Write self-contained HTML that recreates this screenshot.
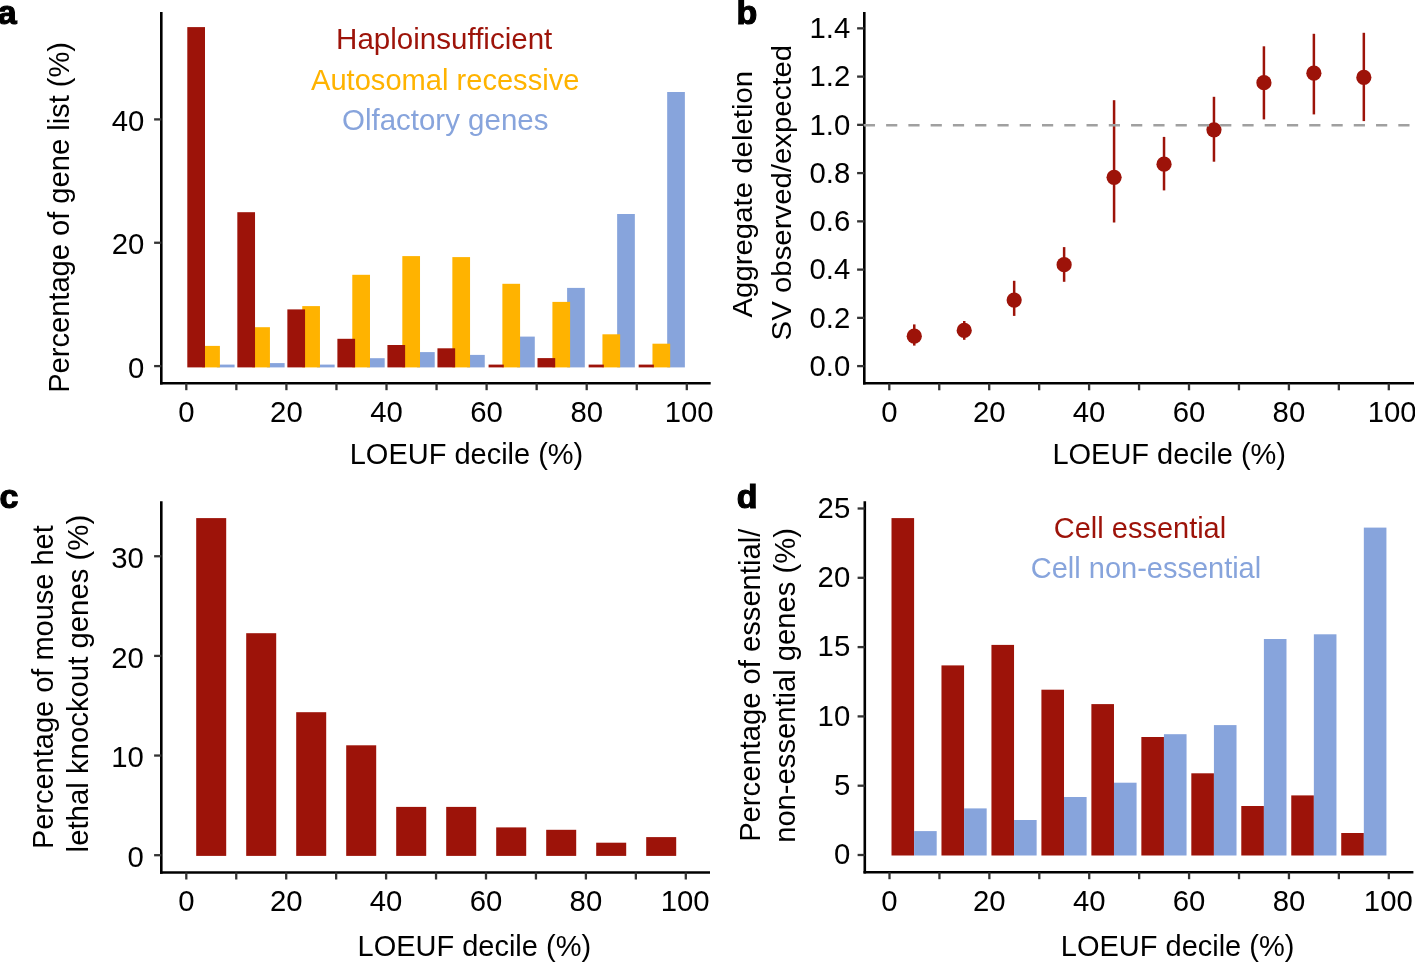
<!DOCTYPE html>
<html><head><meta charset="utf-8"><title>Figure</title>
<style>
html,body{margin:0;padding:0;background:#fff;}
body{width:1415px;height:962px;overflow:hidden;}
svg{display:block;will-change:transform;font-family:"Liberation Sans", sans-serif;}
</style></head>
<body>
<svg width="1415" height="962" viewBox="0 0 1415 962">
<rect width="1415" height="962" fill="#fff"/>
<text x="-2.3" y="24" font-size="34" font-weight="bold" stroke="#000" stroke-width="1.2">a</text>
<line x1="161.3" y1="12" x2="161.3" y2="384.5" stroke="#000" stroke-width="2.6" stroke-linecap="butt"/>
<line x1="160" y1="383.2" x2="710.7" y2="383.2" stroke="#000" stroke-width="2.6"/>
<line x1="154.1" y1="366.1" x2="161.3" y2="366.1" stroke="#333" stroke-width="2.3"/>
<text transform="translate(144.3,377.75) scale(1,1.02)" text-anchor="end" font-size="29.3" fill="#000">0</text>
<line x1="154.1" y1="242.75" x2="161.3" y2="242.75" stroke="#333" stroke-width="2.3"/>
<text transform="translate(144.3,254.4) scale(1,1.02)" text-anchor="end" font-size="29.3" fill="#000">20</text>
<line x1="154.1" y1="119.4" x2="161.3" y2="119.4" stroke="#333" stroke-width="2.3"/>
<text transform="translate(144.3,131.05) scale(1,1.02)" text-anchor="end" font-size="29.3" fill="#000">40</text>
<line x1="186.3" y1="383.2" x2="186.3" y2="390.2" stroke="#333" stroke-width="2.3"/>
<text transform="translate(186.3,422.4) scale(1,1.02)" text-anchor="middle" font-size="29.3" fill="#000">0</text>
<line x1="236.35" y1="383.2" x2="236.35" y2="390.2" stroke="#333" stroke-width="2.3"/>
<line x1="286.4" y1="383.2" x2="286.4" y2="390.2" stroke="#333" stroke-width="2.3"/>
<text transform="translate(286.4,422.4) scale(1,1.02)" text-anchor="middle" font-size="29.3" fill="#000">20</text>
<line x1="336.45" y1="383.2" x2="336.45" y2="390.2" stroke="#333" stroke-width="2.3"/>
<line x1="386.5" y1="383.2" x2="386.5" y2="390.2" stroke="#333" stroke-width="2.3"/>
<text transform="translate(386.5,422.4) scale(1,1.02)" text-anchor="middle" font-size="29.3" fill="#000">40</text>
<line x1="436.55" y1="383.2" x2="436.55" y2="390.2" stroke="#333" stroke-width="2.3"/>
<line x1="486.6" y1="383.2" x2="486.6" y2="390.2" stroke="#333" stroke-width="2.3"/>
<text transform="translate(486.6,422.4) scale(1,1.02)" text-anchor="middle" font-size="29.3" fill="#000">60</text>
<line x1="536.65" y1="383.2" x2="536.65" y2="390.2" stroke="#333" stroke-width="2.3"/>
<line x1="586.7" y1="383.2" x2="586.7" y2="390.2" stroke="#333" stroke-width="2.3"/>
<text transform="translate(586.7,422.4) scale(1,1.02)" text-anchor="middle" font-size="29.3" fill="#000">80</text>
<line x1="636.75" y1="383.2" x2="636.75" y2="390.2" stroke="#333" stroke-width="2.3"/>
<line x1="686.8" y1="383.2" x2="686.8" y2="390.2" stroke="#333" stroke-width="2.3"/>
<text transform="translate(689.2,422.4) scale(1,1.02)" text-anchor="middle" font-size="29.3" fill="#000">100</text>
<rect x="216.9" y="364.6" width="17.7" height="2.8" fill="#87A4DC"/>
<rect x="202.2" y="345.9" width="17.7" height="21.5" fill="#FFB300"/>
<rect x="187.3" y="27.1" width="17.7" height="340.3" fill="#9D1309"/>
<rect x="266.93" y="363.1" width="17.7" height="4.3" fill="#87A4DC"/>
<rect x="252.23" y="327.2" width="17.7" height="40.2" fill="#FFB300"/>
<rect x="237.33" y="212.2" width="17.7" height="155.2" fill="#9D1309"/>
<rect x="316.96" y="364.6" width="17.7" height="2.8" fill="#87A4DC"/>
<rect x="302.26" y="306.1" width="17.7" height="61.3" fill="#FFB300"/>
<rect x="287.36" y="309.4" width="17.7" height="58" fill="#9D1309"/>
<rect x="366.99" y="358.2" width="17.7" height="9.2" fill="#87A4DC"/>
<rect x="352.29" y="274.8" width="17.7" height="92.6" fill="#FFB300"/>
<rect x="337.39" y="338.8" width="17.7" height="28.6" fill="#9D1309"/>
<rect x="417.02" y="352.1" width="17.7" height="15.3" fill="#87A4DC"/>
<rect x="402.32" y="256.1" width="17.7" height="111.3" fill="#FFB300"/>
<rect x="387.42" y="345" width="17.7" height="22.4" fill="#9D1309"/>
<rect x="467.05" y="354.9" width="17.7" height="12.5" fill="#87A4DC"/>
<rect x="452.35" y="257.1" width="17.7" height="110.3" fill="#FFB300"/>
<rect x="437.45" y="348.3" width="17.7" height="19.1" fill="#9D1309"/>
<rect x="517.08" y="336.6" width="17.7" height="30.8" fill="#87A4DC"/>
<rect x="502.38" y="283.8" width="17.7" height="83.6" fill="#FFB300"/>
<rect x="488.58" y="364.6" width="15.2" height="2.8" fill="#9D1309"/>
<rect x="567.11" y="287.9" width="17.7" height="79.5" fill="#87A4DC"/>
<rect x="552.41" y="301.9" width="17.7" height="65.5" fill="#FFB300"/>
<rect x="537.51" y="358.1" width="17.7" height="9.3" fill="#9D1309"/>
<rect x="617.14" y="214" width="17.7" height="153.4" fill="#87A4DC"/>
<rect x="602.44" y="334.3" width="17.7" height="33.1" fill="#FFB300"/>
<rect x="588.64" y="364.6" width="15.2" height="2.8" fill="#9D1309"/>
<rect x="667.17" y="92" width="17.7" height="275.4" fill="#87A4DC"/>
<rect x="652.47" y="343.7" width="17.7" height="23.7" fill="#FFB300"/>
<rect x="638.67" y="364.6" width="15.2" height="2.8" fill="#9D1309"/>
<text transform="translate(444.2,49.3) scale(1,1.01)" text-anchor="middle" font-size="29.55" fill="#9D1309">Haploinsufficient</text>
<text transform="translate(445.2,89.5) scale(1,1.01)" text-anchor="middle" font-size="29.1" fill="#FFB300">Autosomal recessive</text>
<text transform="translate(445.2,130) scale(1,1.01)" text-anchor="middle" font-size="29.5" fill="#87A4DC">Olfactory genes</text>
<text transform="translate(466.5,464) scale(1,1.01)" text-anchor="middle" font-size="29" fill="#000">LOEUF decile (%)</text>
<text transform="translate(68.5,217.4) rotate(-90) scale(1,1.01)" x="0" y="0" text-anchor="middle" font-size="29.1">Percentage of gene list (%)</text>
<text x="736.5" y="24" font-size="34" font-weight="bold" stroke="#000" stroke-width="1.2">b</text>
<line x1="864.3" y1="12" x2="864.3" y2="384.6" stroke="#000" stroke-width="2.6" stroke-linecap="butt"/>
<line x1="863" y1="383.3" x2="1414" y2="383.3" stroke="#000" stroke-width="2.6"/>
<line x1="857.1" y1="366.1" x2="864.3" y2="366.1" stroke="#333" stroke-width="2.3"/>
<text transform="translate(850.3,375.95) scale(1,1.02)" text-anchor="end" font-size="29.3" fill="#000">0.0</text>
<line x1="857.1" y1="317.85" x2="864.3" y2="317.85" stroke="#333" stroke-width="2.3"/>
<text transform="translate(850.3,327.7) scale(1,1.02)" text-anchor="end" font-size="29.3" fill="#000">0.2</text>
<line x1="857.1" y1="269.6" x2="864.3" y2="269.6" stroke="#333" stroke-width="2.3"/>
<text transform="translate(850.3,279.45) scale(1,1.02)" text-anchor="end" font-size="29.3" fill="#000">0.4</text>
<line x1="857.1" y1="221.35" x2="864.3" y2="221.35" stroke="#333" stroke-width="2.3"/>
<text transform="translate(850.3,231.2) scale(1,1.02)" text-anchor="end" font-size="29.3" fill="#000">0.6</text>
<line x1="857.1" y1="173.1" x2="864.3" y2="173.1" stroke="#333" stroke-width="2.3"/>
<text transform="translate(850.3,182.95) scale(1,1.02)" text-anchor="end" font-size="29.3" fill="#000">0.8</text>
<line x1="857.1" y1="124.85" x2="864.3" y2="124.85" stroke="#333" stroke-width="2.3"/>
<text transform="translate(850.3,134.7) scale(1,1.02)" text-anchor="end" font-size="29.3" fill="#000">1.0</text>
<line x1="857.1" y1="76.6" x2="864.3" y2="76.6" stroke="#333" stroke-width="2.3"/>
<text transform="translate(850.3,86.45) scale(1,1.02)" text-anchor="end" font-size="29.3" fill="#000">1.2</text>
<line x1="857.1" y1="28.35" x2="864.3" y2="28.35" stroke="#333" stroke-width="2.3"/>
<text transform="translate(850.3,38.2) scale(1,1.02)" text-anchor="end" font-size="29.3" fill="#000">1.4</text>
<line x1="889.3" y1="383.3" x2="889.3" y2="390.3" stroke="#333" stroke-width="2.3"/>
<text transform="translate(889.3,422.4) scale(1,1.02)" text-anchor="middle" font-size="29.3" fill="#000">0</text>
<line x1="939.25" y1="383.3" x2="939.25" y2="390.3" stroke="#333" stroke-width="2.3"/>
<line x1="989.2" y1="383.3" x2="989.2" y2="390.3" stroke="#333" stroke-width="2.3"/>
<text transform="translate(989.2,422.4) scale(1,1.02)" text-anchor="middle" font-size="29.3" fill="#000">20</text>
<line x1="1039.15" y1="383.3" x2="1039.15" y2="390.3" stroke="#333" stroke-width="2.3"/>
<line x1="1089.1" y1="383.3" x2="1089.1" y2="390.3" stroke="#333" stroke-width="2.3"/>
<text transform="translate(1089.1,422.4) scale(1,1.02)" text-anchor="middle" font-size="29.3" fill="#000">40</text>
<line x1="1139.05" y1="383.3" x2="1139.05" y2="390.3" stroke="#333" stroke-width="2.3"/>
<line x1="1189" y1="383.3" x2="1189" y2="390.3" stroke="#333" stroke-width="2.3"/>
<text transform="translate(1189,422.4) scale(1,1.02)" text-anchor="middle" font-size="29.3" fill="#000">60</text>
<line x1="1238.95" y1="383.3" x2="1238.95" y2="390.3" stroke="#333" stroke-width="2.3"/>
<line x1="1288.9" y1="383.3" x2="1288.9" y2="390.3" stroke="#333" stroke-width="2.3"/>
<text transform="translate(1288.9,422.4) scale(1,1.02)" text-anchor="middle" font-size="29.3" fill="#000">80</text>
<line x1="1338.85" y1="383.3" x2="1338.85" y2="390.3" stroke="#333" stroke-width="2.3"/>
<line x1="1388.8" y1="383.3" x2="1388.8" y2="390.3" stroke="#333" stroke-width="2.3"/>
<text transform="translate(1392.2,422.4) scale(1,1.02)" text-anchor="middle" font-size="29.3" fill="#000">100</text>
<line x1="914.27" y1="324.4" x2="914.27" y2="345.6" stroke="#9D1309" stroke-width="2.5"/>
<circle cx="914.27" cy="336.2" r="7.6" fill="#9D1309"/>
<line x1="964.22" y1="321" x2="964.22" y2="339.8" stroke="#9D1309" stroke-width="2.5"/>
<circle cx="964.22" cy="330.4" r="7.6" fill="#9D1309"/>
<line x1="1014.17" y1="280.8" x2="1014.17" y2="315.9" stroke="#9D1309" stroke-width="2.5"/>
<circle cx="1014.17" cy="300.1" r="7.6" fill="#9D1309"/>
<line x1="1064.12" y1="247.1" x2="1064.12" y2="281.8" stroke="#9D1309" stroke-width="2.5"/>
<circle cx="1064.12" cy="264.7" r="7.6" fill="#9D1309"/>
<line x1="1114.08" y1="100.2" x2="1114.08" y2="222.5" stroke="#9D1309" stroke-width="2.5"/>
<circle cx="1114.08" cy="177.3" r="7.6" fill="#9D1309"/>
<line x1="1164.03" y1="136.9" x2="1164.03" y2="190.4" stroke="#9D1309" stroke-width="2.5"/>
<circle cx="1164.03" cy="164.2" r="7.6" fill="#9D1309"/>
<line x1="1213.97" y1="96.8" x2="1213.97" y2="161.7" stroke="#9D1309" stroke-width="2.5"/>
<circle cx="1213.97" cy="129.8" r="7.6" fill="#9D1309"/>
<line x1="1263.92" y1="46.3" x2="1263.92" y2="119.4" stroke="#9D1309" stroke-width="2.5"/>
<circle cx="1263.92" cy="82.7" r="7.6" fill="#9D1309"/>
<line x1="1313.88" y1="33.8" x2="1313.88" y2="114.4" stroke="#9D1309" stroke-width="2.5"/>
<circle cx="1313.88" cy="73.2" r="7.6" fill="#9D1309"/>
<line x1="1363.83" y1="32.8" x2="1363.83" y2="121.1" stroke="#9D1309" stroke-width="2.5"/>
<circle cx="1363.83" cy="77.4" r="7.6" fill="#9D1309"/>
<line x1="863.83" y1="125.2" x2="1415" y2="125.2" stroke="#A0A0A0" stroke-width="2.4" stroke-dasharray="11.2,11.07"/>
<text transform="translate(1169.2,463.5) scale(1,1.01)" text-anchor="middle" font-size="29" fill="#000">LOEUF decile (%)</text>
<text transform="translate(752.4,194.2) rotate(-90) scale(1.05,1)" x="0" y="0" text-anchor="middle" font-size="28">Aggregate deletion</text>
<text transform="translate(790.9,192.6) rotate(-90) scale(1.05,1)" x="0" y="0" text-anchor="middle" font-size="28">SV observed/expected</text>
<text x="-0.4" y="508.3" font-size="34" font-weight="bold" stroke="#000" stroke-width="1.2">c</text>
<line x1="161.3" y1="501.2" x2="161.3" y2="873.8" stroke="#000" stroke-width="2.6" stroke-linecap="butt"/>
<line x1="160" y1="872.5" x2="710" y2="872.5" stroke="#000" stroke-width="2.6"/>
<line x1="154.1" y1="855.2" x2="161.3" y2="855.2" stroke="#333" stroke-width="2.3"/>
<text transform="translate(143.8,866.8) scale(1,1.02)" text-anchor="end" font-size="29.3" fill="#000">0</text>
<line x1="154.1" y1="755.55" x2="161.3" y2="755.55" stroke="#333" stroke-width="2.3"/>
<text transform="translate(143.8,767.15) scale(1,1.02)" text-anchor="end" font-size="29.3" fill="#000">10</text>
<line x1="154.1" y1="655.9" x2="161.3" y2="655.9" stroke="#333" stroke-width="2.3"/>
<text transform="translate(143.8,667.5) scale(1,1.02)" text-anchor="end" font-size="29.3" fill="#000">20</text>
<line x1="154.1" y1="556.25" x2="161.3" y2="556.25" stroke="#333" stroke-width="2.3"/>
<text transform="translate(143.8,567.85) scale(1,1.02)" text-anchor="end" font-size="29.3" fill="#000">30</text>
<line x1="186.3" y1="872.5" x2="186.3" y2="879.5" stroke="#333" stroke-width="2.3"/>
<text transform="translate(186.3,910.9) scale(1,1.02)" text-anchor="middle" font-size="29.3" fill="#000">0</text>
<line x1="236.25" y1="872.5" x2="236.25" y2="879.5" stroke="#333" stroke-width="2.3"/>
<line x1="286.2" y1="872.5" x2="286.2" y2="879.5" stroke="#333" stroke-width="2.3"/>
<text transform="translate(286.2,910.9) scale(1,1.02)" text-anchor="middle" font-size="29.3" fill="#000">20</text>
<line x1="336.15" y1="872.5" x2="336.15" y2="879.5" stroke="#333" stroke-width="2.3"/>
<line x1="386.1" y1="872.5" x2="386.1" y2="879.5" stroke="#333" stroke-width="2.3"/>
<text transform="translate(386.1,910.9) scale(1,1.02)" text-anchor="middle" font-size="29.3" fill="#000">40</text>
<line x1="436.05" y1="872.5" x2="436.05" y2="879.5" stroke="#333" stroke-width="2.3"/>
<line x1="486" y1="872.5" x2="486" y2="879.5" stroke="#333" stroke-width="2.3"/>
<text transform="translate(486,910.9) scale(1,1.02)" text-anchor="middle" font-size="29.3" fill="#000">60</text>
<line x1="535.95" y1="872.5" x2="535.95" y2="879.5" stroke="#333" stroke-width="2.3"/>
<line x1="585.9" y1="872.5" x2="585.9" y2="879.5" stroke="#333" stroke-width="2.3"/>
<text transform="translate(585.9,910.9) scale(1,1.02)" text-anchor="middle" font-size="29.3" fill="#000">80</text>
<line x1="635.85" y1="872.5" x2="635.85" y2="879.5" stroke="#333" stroke-width="2.3"/>
<line x1="685.8" y1="872.5" x2="685.8" y2="879.5" stroke="#333" stroke-width="2.3"/>
<text transform="translate(685.1,910.9) scale(1,1.02)" text-anchor="middle" font-size="29.3" fill="#000">100</text>
<rect x="196.2" y="518.1" width="30" height="337.8" fill="#9D1309"/>
<rect x="246.2" y="633.2" width="30" height="222.7" fill="#9D1309"/>
<rect x="296.2" y="712.2" width="30" height="143.7" fill="#9D1309"/>
<rect x="346.2" y="745.3" width="30" height="110.6" fill="#9D1309"/>
<rect x="396.2" y="806.9" width="30" height="49" fill="#9D1309"/>
<rect x="446.2" y="806.9" width="30" height="49" fill="#9D1309"/>
<rect x="496.2" y="827.4" width="30" height="28.5" fill="#9D1309"/>
<rect x="546.2" y="829.8" width="30" height="26.1" fill="#9D1309"/>
<rect x="596.2" y="842.7" width="30" height="13.2" fill="#9D1309"/>
<rect x="646.2" y="837.1" width="30" height="18.8" fill="#9D1309"/>
<text transform="translate(474.3,955.7) scale(1,1.01)" text-anchor="middle" font-size="29" fill="#000">LOEUF decile (%)</text>
<text transform="translate(52.9,687.2) rotate(-90) scale(1,1.01)" x="0" y="0" text-anchor="middle" font-size="29">Percentage of mouse het</text>
<text transform="translate(88,683.6) rotate(-90) scale(1,1.01)" x="0" y="0" text-anchor="middle" font-size="29.35">lethal knockout genes (%)</text>
<text x="736.7" y="507.5" font-size="34" font-weight="bold" stroke="#000" stroke-width="1.2">d</text>
<line x1="864.8" y1="501.2" x2="864.8" y2="873.5" stroke="#000" stroke-width="2.6" stroke-linecap="butt"/>
<line x1="863.5" y1="872.2" x2="1413.4" y2="872.2" stroke="#000" stroke-width="2.6"/>
<line x1="857.6" y1="855" x2="864.8" y2="855" stroke="#333" stroke-width="2.3"/>
<text transform="translate(850.2,864.35) scale(1,1.02)" text-anchor="end" font-size="29.3" fill="#000">0</text>
<line x1="857.6" y1="785.7" x2="864.8" y2="785.7" stroke="#333" stroke-width="2.3"/>
<text transform="translate(850.2,795.05) scale(1,1.02)" text-anchor="end" font-size="29.3" fill="#000">5</text>
<line x1="857.6" y1="716.4" x2="864.8" y2="716.4" stroke="#333" stroke-width="2.3"/>
<text transform="translate(850.2,725.75) scale(1,1.02)" text-anchor="end" font-size="29.3" fill="#000">10</text>
<line x1="857.6" y1="647.1" x2="864.8" y2="647.1" stroke="#333" stroke-width="2.3"/>
<text transform="translate(850.2,656.45) scale(1,1.02)" text-anchor="end" font-size="29.3" fill="#000">15</text>
<line x1="857.6" y1="577.8" x2="864.8" y2="577.8" stroke="#333" stroke-width="2.3"/>
<text transform="translate(850.2,587.15) scale(1,1.02)" text-anchor="end" font-size="29.3" fill="#000">20</text>
<line x1="857.6" y1="508.5" x2="864.8" y2="508.5" stroke="#333" stroke-width="2.3"/>
<text transform="translate(850.2,517.85) scale(1,1.02)" text-anchor="end" font-size="29.3" fill="#000">25</text>
<line x1="889.5" y1="872.2" x2="889.5" y2="879.2" stroke="#333" stroke-width="2.3"/>
<text transform="translate(889.5,910.8) scale(1,1.02)" text-anchor="middle" font-size="29.3" fill="#000">0</text>
<line x1="939.43" y1="872.2" x2="939.43" y2="879.2" stroke="#333" stroke-width="2.3"/>
<line x1="989.36" y1="872.2" x2="989.36" y2="879.2" stroke="#333" stroke-width="2.3"/>
<text transform="translate(989.36,910.8) scale(1,1.02)" text-anchor="middle" font-size="29.3" fill="#000">20</text>
<line x1="1039.29" y1="872.2" x2="1039.29" y2="879.2" stroke="#333" stroke-width="2.3"/>
<line x1="1089.22" y1="872.2" x2="1089.22" y2="879.2" stroke="#333" stroke-width="2.3"/>
<text transform="translate(1089.22,910.8) scale(1,1.02)" text-anchor="middle" font-size="29.3" fill="#000">40</text>
<line x1="1139.15" y1="872.2" x2="1139.15" y2="879.2" stroke="#333" stroke-width="2.3"/>
<line x1="1189.08" y1="872.2" x2="1189.08" y2="879.2" stroke="#333" stroke-width="2.3"/>
<text transform="translate(1189.08,910.8) scale(1,1.02)" text-anchor="middle" font-size="29.3" fill="#000">60</text>
<line x1="1239.01" y1="872.2" x2="1239.01" y2="879.2" stroke="#333" stroke-width="2.3"/>
<line x1="1288.94" y1="872.2" x2="1288.94" y2="879.2" stroke="#333" stroke-width="2.3"/>
<text transform="translate(1288.94,910.8) scale(1,1.02)" text-anchor="middle" font-size="29.3" fill="#000">80</text>
<line x1="1338.87" y1="872.2" x2="1338.87" y2="879.2" stroke="#333" stroke-width="2.3"/>
<line x1="1388.8" y1="872.2" x2="1388.8" y2="879.2" stroke="#333" stroke-width="2.3"/>
<text transform="translate(1388.3,910.8) scale(1,1.02)" text-anchor="middle" font-size="29.3" fill="#000">100</text>
<rect x="891.5" y="518.1" width="22.6" height="337.4" fill="#9D1309"/>
<rect x="914.1" y="831.1" width="22.6" height="24.4" fill="#87A4DC"/>
<rect x="941.47" y="665.4" width="22.6" height="190.1" fill="#9D1309"/>
<rect x="964.07" y="808.4" width="22.6" height="47.1" fill="#87A4DC"/>
<rect x="991.44" y="644.9" width="22.6" height="210.6" fill="#9D1309"/>
<rect x="1014.04" y="820" width="22.6" height="35.5" fill="#87A4DC"/>
<rect x="1041.41" y="689.7" width="22.6" height="165.8" fill="#9D1309"/>
<rect x="1064.01" y="797" width="22.6" height="58.5" fill="#87A4DC"/>
<rect x="1091.38" y="704.1" width="22.6" height="151.4" fill="#9D1309"/>
<rect x="1113.98" y="782.7" width="22.6" height="72.8" fill="#87A4DC"/>
<rect x="1141.35" y="737" width="22.6" height="118.5" fill="#9D1309"/>
<rect x="1163.95" y="734.2" width="22.6" height="121.3" fill="#87A4DC"/>
<rect x="1191.32" y="773.3" width="22.6" height="82.2" fill="#9D1309"/>
<rect x="1213.92" y="725.1" width="22.6" height="130.4" fill="#87A4DC"/>
<rect x="1241.29" y="806" width="22.6" height="49.5" fill="#9D1309"/>
<rect x="1263.89" y="639" width="22.6" height="216.5" fill="#87A4DC"/>
<rect x="1291.26" y="795.4" width="22.6" height="60.1" fill="#9D1309"/>
<rect x="1313.86" y="634.3" width="22.6" height="221.2" fill="#87A4DC"/>
<rect x="1341.23" y="833" width="22.6" height="22.5" fill="#9D1309"/>
<rect x="1363.83" y="527.6" width="22.6" height="327.9" fill="#87A4DC"/>
<text transform="translate(1140,538.2) scale(1,1.01)" text-anchor="middle" font-size="29" fill="#9D1309">Cell essential</text>
<text transform="translate(1146,578.2) scale(1,1.01)" text-anchor="middle" font-size="29" fill="#87A4DC">Cell non-essential</text>
<text transform="translate(1177.6,955.5) scale(1,1.01)" text-anchor="middle" font-size="29" fill="#000">LOEUF decile (%)</text>
<text transform="translate(759.9,685.3) rotate(-90) scale(1,1.01)" x="0" y="0" text-anchor="middle" font-size="29.2">Percentage of essential/</text>
<text transform="translate(794.9,685.5) rotate(-90) scale(1,1.01)" x="0" y="0" text-anchor="middle" font-size="29.2">non-essential genes (%)</text>
</svg>
</body></html>
